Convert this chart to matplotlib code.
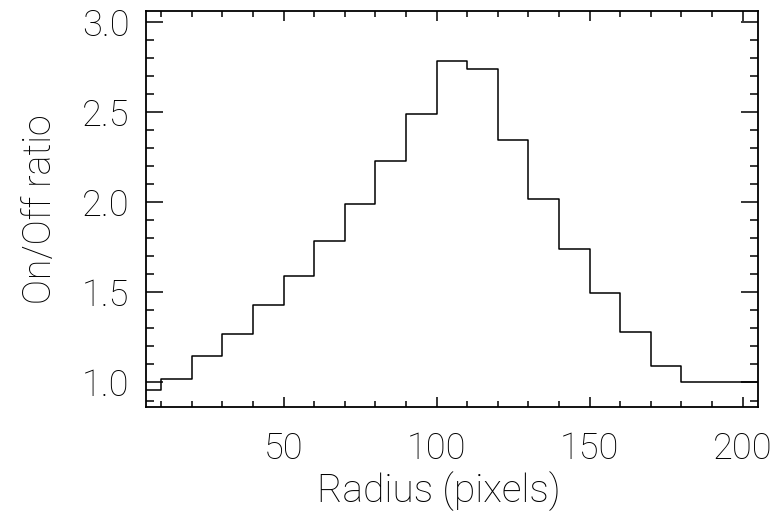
import matplotlib
matplotlib.use('Agg')
import matplotlib.pyplot as plt
import numpy as np
from matplotlib.ticker import MultipleLocator

# radius bin centres (pixels) and on/off ratio
radius = [5, 15, 25, 35, 45, 55, 65, 75, 85, 95, 105,
          115, 125, 135, 145, 155, 165, 175, 185, 195, 205]
ratio = [0.960, 1.020, 1.149, 1.267, 1.430, 1.592, 1.785, 1.992, 2.225, 2.486, 2.781,
         2.737, 2.343, 2.018, 1.741, 1.498, 1.280, 1.091, 1.000, 1.000, 1.000]

plt.rcParams['font.family'] = ['Roboto', 'DejaVu Sans']
plt.rcParams['font.weight'] = 'light'
plt.rcParams['axes.labelweight'] = 'light'

fig = plt.figure(figsize=(7.79, 5.19), dpi=100)
ax = fig.add_axes([0.1874, 0.2158, 0.7856, 0.763])

ax.step(radius, ratio, where='mid', color='black', lw=1.1)

ax.set_xlim(min(radius), max(radius))
ax.set_ylim(0.9 * min(ratio), 1.1 * max(ratio))

ax.xaxis.set_major_locator(MultipleLocator(50))
ax.xaxis.set_minor_locator(MultipleLocator(10))
ax.yaxis.set_major_locator(MultipleLocator(0.5))
ax.yaxis.set_minor_locator(MultipleLocator(0.1))

ax.tick_params(axis='both', which='both', direction='in', top=True, right=True,
               color='black', width=1.1, labelsize=26, labelcolor='black')
ax.tick_params(axis='x', which='major', length=7, pad=17)
ax.tick_params(axis='x', which='minor', length=4)
ax.tick_params(axis='y', which='major', length=12, pad=12)
ax.tick_params(axis='y', which='minor', length=6)

for s in ax.spines.values():
    s.set_linewidth(1.3)

ax.set_xlabel('Radius (pixels)', fontsize=28)
ax.set_ylabel('On/Off ratio', fontsize=27, labelpad=16)
ax.xaxis.set_label_coords(0.478, -0.163)

plt.savefig('out.png', dpi=100)
